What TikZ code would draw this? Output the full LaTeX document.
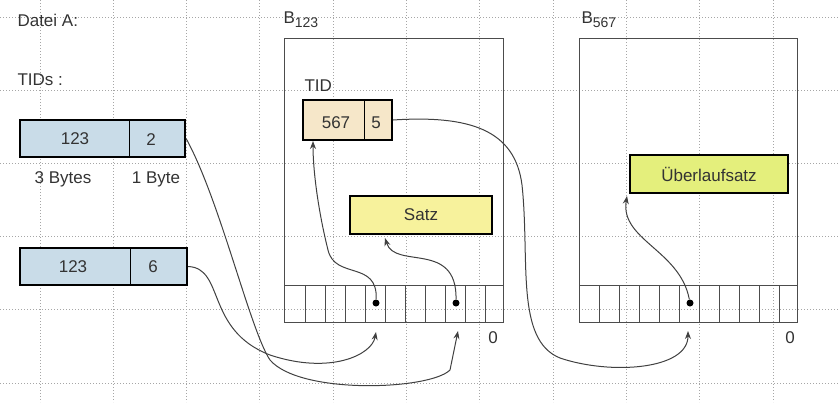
\documentclass[tikz,border=0pt]{standalone}
\usepackage{fontspec}
\setmainfont{Liberation Sans}
\usetikzlibrary{arrows.meta}
\definecolor{tidblue}{HTML}{C9DCE8}
\definecolor{tidtan}{HTML}{F6E7C9}
\definecolor{satzyel}{HTML}{F7F29C}
\definecolor{uebgreen}{HTML}{E4EF7C}
\definecolor{txtgray}{HTML}{333333}
\begin{document}
\begin{tikzpicture}[x=1pt,y=-1pt,font=\fontsize{17}{19}\selectfont,text=txtgray,
  field/.style={draw,line width=2.2pt,inner sep=0pt},
  ptr/.style={-{Stealth[length=8pt,width=6pt]},line width=1pt,black!75},
  dot/.style={circle,fill,inner sep=0pt,minimum size=7pt}]
\useasboundingbox (0,0) rectangle (840,402);

% raster
\foreach \x in {40,113.3,...,800} \draw[black!35,dotted,line width=1pt] (\x,0) -- (\x,402);
\foreach \y in {17,90.2,...,402} \draw[black!35,dotted,line width=1pt] (0,\y) -- (840,\y);

% Datei A
\node[anchor=west] (datei) at (14,20) {Datei A:};
\node[anchor=west] (tids) at (14,80) {TIDs :};
\node[field,fill=tidblue,minimum width=165pt,minimum height=37pt] (tidA) at (102.5,138.5) {};
\draw[line width=0.8pt] (129,120) -- (129,157);
\node (tidAp) at (75,138.5) {123};
\node (tidAs) at (151,139.5) {2};
\node (bytes3) at (63,179) {3 Bytes};
\node (bytes1) at (156,179) {1 Byte};
\node[field,fill=tidblue,minimum width=167pt,minimum height=37pt] (tidB) at (103.5,266.5) {};
\draw[line width=0.8pt] (130,248) -- (130,285);
\node (tidBp) at (73,267) {123};
\node (tidBs) at (153,267) {6};

% Seite B123
\node[anchor=west] (lblB) at (280,20) {B\raisebox{-0.4ex}{\fontsize{14}{15}\selectfont 123}};
\draw[black!70,line width=1pt] (284,38) rectangle (503,322);
\draw[black!70,line width=1pt] (284,285) -- (503,285);
\foreach \x in {305,325,...,485} \draw[black!70,line width=1pt] (\x,285) -- (\x,322);
\node (nullB) at (493,338) {0};
\node[anchor=west] (tidlbl) at (301,86) {TID};
\node[field,fill=tidtan,line width=2pt,minimum width=89pt,minimum height=40pt] (tidC) at (347.5,120) {};
\draw[line width=0.8pt] (364,100) -- (364,140);
\node (tidCp) at (336,123) {567};
\node (tidCs) at (376,123) {5};
\node[field,fill=satzyel,line width=2pt,minimum width=142pt,minimum height=38pt] (satz) at (421,215) {Satz};
\node[dot] (slot1) at (376,303) {};
\node[dot] (slot2) at (456,303) {};
\coordinate (in1) at (376,332);
\coordinate (in2) at (458,331);

% Seite B567
\node[anchor=west] (lblD) at (578,20) {B\raisebox{-0.4ex}{\fontsize{14}{15}\selectfont 567}};
\draw[black!70,line width=1pt] (579,38) rectangle (797,322);
\draw[black!70,line width=1pt] (579,285) -- (797,285);
\foreach \x in {599,619,...,779} \draw[black!70,line width=1pt] (\x,285) -- (\x,322);
\node (nullD) at (790,338) {0};
\node[field,fill=uebgreen,line width=2pt,minimum width=158pt,minimum height=38pt] (ueb) at (709,174) {Überlaufsatz};
\node[dot] (slot3) at (690,303) {};
\coordinate (in3) at (688,331);

% Verweise
\draw[ptr] (tidA.east) .. controls (220,200) and (250,330) .. (270,360)
  .. controls (300,395) and (430,390) .. (450,370) -- (in2);
\draw[ptr] (tidB.east) .. controls (225,268) and (205,330) .. (270,355)
  .. controls (330,375) and (372,355) .. (in1);
\draw[ptr] (slot1) .. controls (378,260) and (335,280) .. (328,250)
  .. controls (318,210) and (313,170) .. (313,141);
\draw[ptr] (slot2) .. controls (457,240) and (395,270) .. (385,238);
\draw[ptr] (tidC.east) .. controls (470,115) and (515,130) .. (522,185)
  .. controls (530,260) and (515,340) .. (560,358)
  .. controls (610,375) and (688,370) .. (in3);
\draw[ptr] (slot3) .. controls (680,250) and (620,240) .. (627,196);
\end{tikzpicture}
\end{document}
